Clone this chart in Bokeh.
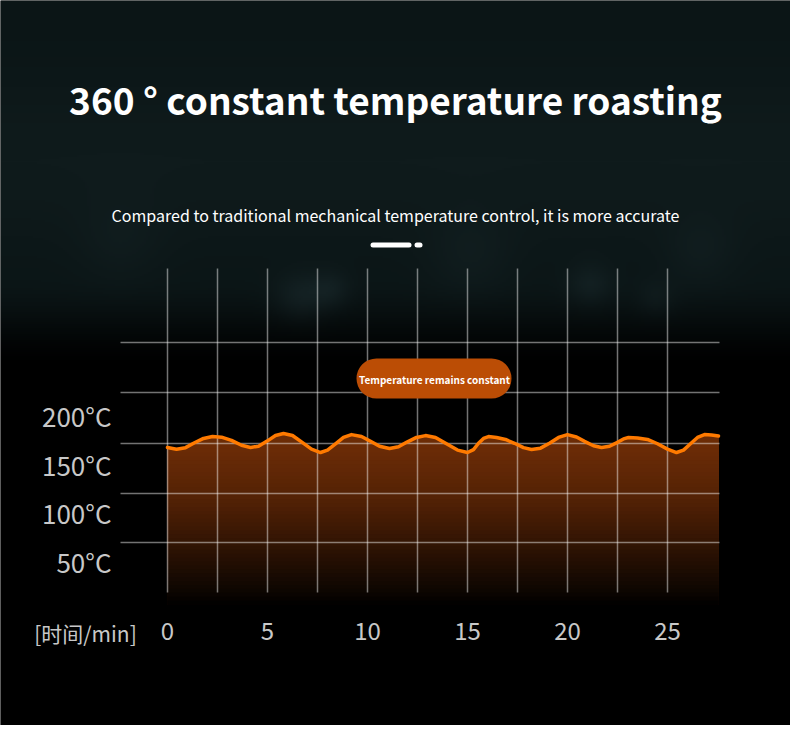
import numpy as np
from bokeh.plotting import figure
from bokeh.models import Range1d, LinearAxis, FixedTicker, Label
from bokeh.embed import file_html
from bokeh.resources import INLINE

# ---------------- data ----------------
time_min = [0.0, 0.45, 0.9, 1.35, 1.8, 2.25, 2.7, 3.2, 3.7, 4.15,
            4.55, 5.0, 5.4, 5.8, 6.25, 6.7, 7.2, 7.65, 8.0, 8.4,
            8.8, 9.2, 9.7, 10.15, 10.6, 11.1, 11.55, 12.0, 12.45, 12.9,
            13.4, 13.95, 14.5, 15.0, 15.3, 15.55, 15.8, 16.05, 16.45, 16.9,
            17.35, 17.8, 18.2, 18.65, 19.1, 19.55, 20.0, 20.45, 20.85, 21.3,
            21.7, 22.1, 22.5, 22.8, 23.05, 23.5, 24.0, 24.5, 25.0, 25.45,
            25.8, 26.15, 26.5, 26.85, 27.2, 27.55]
temp_c = [167.2, 165.3, 167.0, 172.0, 176.5, 178.4, 177.8, 174.5, 169.5, 167.2,
          168.5, 174.0, 179.5, 181.5, 179.5, 173.0, 165.5, 162.0, 164.5, 171.0,
          177.5, 180.4, 178.5, 173.5, 168.5, 166.1, 168.0, 173.0, 177.5, 179.4,
          177.5, 171.0, 164.5, 162.0, 165.0, 171.5, 176.5, 178.4, 177.5, 175.4,
          171.5, 167.0, 165.1, 166.5, 171.5, 177.5, 180.4, 178.0, 173.5, 169.0,
          167.2, 168.5, 172.5, 176.0, 177.4, 177.0, 175.4, 171.0, 165.5, 162.0,
          164.5, 171.0, 177.5, 180.4, 180.0, 179.0]

x_ticks = [0, 5, 10, 15, 20, 25]
y_ticks = [50, 100, 150, 200]
y_tick_labels = ["50°C", "100°C", "150°C", "200°C"]
x_grid = [0, 2.5, 5, 7.5, 10, 12.5, 15, 17.5, 20, 22.5, 25]
y_grid = [69.6, 119.9, 171.3, 223.7, 275.0]

title_text = "360 ° constant temperature roasting"
subtitle_text = "Compared to traditional mechanical temperature control, it is more accurate"
badge_text = "Temperature remains constant"
x_axis_title = "[时间/min]"

# ---------------- layout helpers (page pixel -> data) ----------------
W, H = 790, 725
PX_PER_MIN = 20.0
X0_PX = 167.0
PX_PER_C = 0.9733
Y0_PX = 609.7


def X(px):
    return (px - X0_PX) / PX_PER_MIN


def T(py):
    return (Y0_PX - py) / PX_PER_C


x_lo, x_hi = X(0), X(W)
y_lo, y_hi = T(H), T(0)

p = figure(width=W, height=H, output_backend="svg", toolbar_location=None,
           x_range=Range1d(x_lo, x_hi), y_range=Range1d(y_lo, y_hi),
           x_axis_location=None, y_axis_location=None, min_border=0,
           background_fill_color="black", border_fill_color="black")
p.outline_line_color = None
p.grid.visible = False

# ---------------- background (dark teal fading to black) ----------------
sx = 2
cols, rows = (W + 1) // sx, (H + 1) // sx
Xs = (np.arange(cols) + 0.5) * sx
Ys = H - (np.arange(rows) + 0.5) * sx
XX, YY = np.meshgrid(Xs, Ys)
base = np.array([11.0, 21.0, 22.0])
rgb = np.ones(XX.shape + (3,)) * base
rgb += np.exp(-((YY - 160) / 90.0) ** 2)[..., None] * np.array([4.0, 6.0, 6.0])
blobs = [(300, 300, 18, 12), (330, 290, 14, 9), (590, 285, 16, 9),
         (655, 300, 14, 7), (470, 255, 30, 5), (700, 250, 25, 5), (120, 240, 30, 4)]
for bx, by, br, amp in blobs:
    g = np.exp(-((XX - bx) ** 2 + (YY - by) ** 2) / (2 * br ** 2))
    rgb += g[..., None] * amp * np.array([0.8, 1.1, 1.2])
f = np.clip((372 - YY) / 95.0, 0, 1)
f = f * f * (3 - 2 * f)
rgb *= f[..., None]
img = np.empty((rows, cols), dtype=np.uint32)
v = img.view(dtype=np.uint8).reshape((rows, cols, 4))
v[..., 0] = np.clip(rgb[..., 0], 0, 255)
v[..., 1] = np.clip(rgb[..., 1], 0, 255)
v[..., 2] = np.clip(rgb[..., 2], 0, 255)
v[..., 3] = 255
p.image_rgba(image=[img], x=x_lo, y=T(rows * sx), dw=cols * sx / PX_PER_MIN,
             dh=rows * sx / PX_PER_C)

# ---------------- gradient area under the curve ----------------
t = np.array(time_min)
c = np.array(temp_c)
stops_T = [T(604), T(592), T(550), T(500), T(450), 200.0]
stops_rgb = [(0, 0, 0), (12, 5, 1), (44, 18, 3), (82, 33, 5), (106, 43, 6), (112, 46, 6)]
fill_bottom = T(604)
band_tops = np.arange(190, fill_bottom, -4.0)
for top in band_tops:
    mid = top - 2.0
    col = [np.interp(mid, stops_T, [s[k] for s in stops_rgb]) for k in range(3)]
    hexcol = "#%02x%02x%02x" % tuple(int(round(q)) for q in col)
    p.varea(x=t, y1=np.full_like(c, fill_bottom), y2=np.minimum(c, top),
            fill_color=hexcol, fill_alpha=1.0)

# ---------------- grid ----------------
p.segment(x0=x_grid, y0=[T(592)] * len(x_grid), x1=x_grid, y1=[T(268)] * len(x_grid),
          line_color="white", line_alpha=0.45, line_width=1.5)
p.segment(x0=[X(120)] * len(y_grid), y0=y_grid, x1=[X(719)] * len(y_grid), y1=y_grid,
          line_color="white", line_alpha=0.45, line_width=1.5)

# ---------------- curve ----------------
p.line(t, c, line_color="#ff7a00", line_width=3.5, line_join="round", line_cap="round")

# ---------------- axes ----------------
xaxis = LinearAxis(fixed_location=T(592), ticker=FixedTicker(ticks=x_ticks))
xaxis.axis_line_color = None
xaxis.major_tick_line_color = None
xaxis.minor_tick_line_color = None
xaxis.major_tick_out = 0
xaxis.major_tick_in = 0
xaxis.major_label_standoff = 29
xaxis.major_label_text_font = "Noto Sans CJK SC"
xaxis.major_label_text_font_size = "24px"
xaxis.major_label_text_color = "#c8c8c8"
p.add_layout(xaxis, "below")

yaxis = LinearAxis(fixed_location=X(121), ticker=FixedTicker(ticks=y_ticks))
yaxis.major_label_overrides = dict(zip(y_ticks, y_tick_labels))
yaxis.axis_line_color = None
yaxis.major_tick_line_color = None
yaxis.minor_tick_line_color = None
yaxis.major_tick_out = 0
yaxis.major_tick_in = 0
yaxis.major_label_standoff = 10
yaxis.major_label_text_font = "Noto Sans CJK SC"
yaxis.major_label_text_font_size = "26px"
yaxis.major_label_text_color = "#c8c8c8"
p.add_layout(yaxis, "left")

p.add_layout(Label(x=X(85), y=T(632), text=x_axis_title, text_align="center",
                   text_baseline="middle", text_font="Noto Sans CJK SC",
                   text_font_size="21px", text_color="#c8c8c8"))

# ---------------- badge ----------------
p.quad(left=[X(356)], right=[X(511)], bottom=[T(398)], top=[T(358)],
       fill_color="#bb4d05", line_color=None, border_radius=20)
p.add_layout(Label(x=X(434), y=T(379), text=badge_text, text_align="center",
                   text_baseline="middle", text_font="Noto Sans CJK SC",
                   text_font_style="bold", text_font_size="10px", text_color="white"))

# ---------------- titles ----------------
p.add_layout(Label(x=X(395), y=T(98), text=title_text, text_align="center",
                   text_baseline="middle", text_font="Noto Sans CJK SC",
                   text_font_style="bold", text_font_size="37px", text_color="white"))
p.add_layout(Label(x=X(395), y=T(214), text=subtitle_text, text_align="center",
                   text_baseline="middle", text_font="Noto Sans CJK SC",
                   text_font_size="16px", text_color="white"))
p.segment(x0=[X(372.5), X(416.5)], y0=[T(244.5)] * 2, x1=[X(408.5), X(419.5)], y1=[T(244.5)] * 2,
          line_color="white", line_width=5, line_cap="round")

open("out.html", "w").write(file_html(p, INLINE))
